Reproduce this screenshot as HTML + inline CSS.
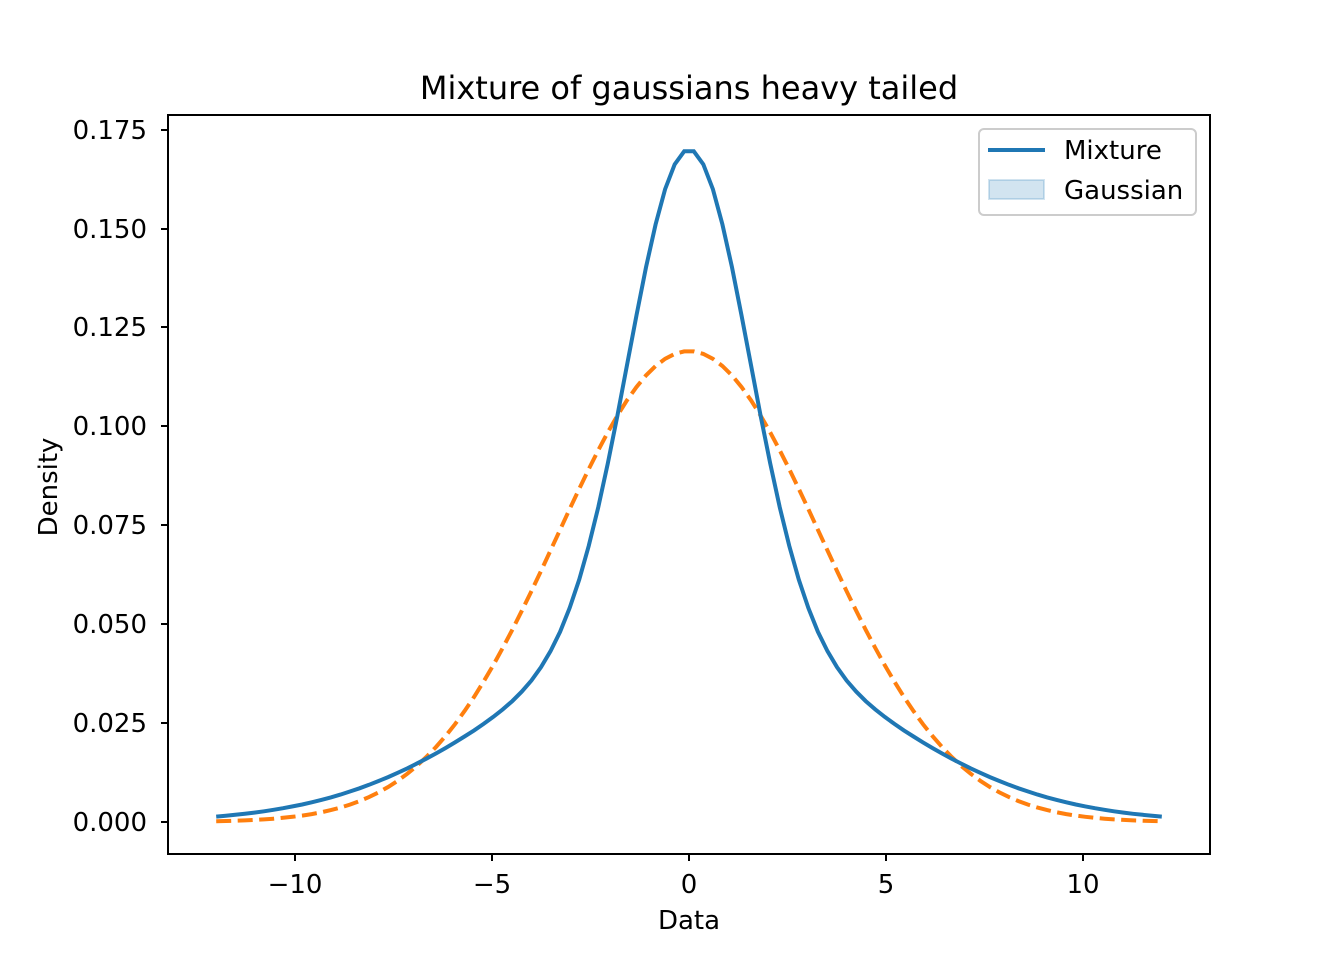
<!DOCTYPE html>
<html><head><meta charset="utf-8"><style>
body{margin:0;background:#fff}
text{font-family:"DejaVu Sans","Liberation Sans",sans-serif;fill:#000}
</style></head><body>
<svg id="s" width="1344" height="960" xmlns="http://www.w3.org/2000/svg">
<rect width="1344" height="960" fill="#fff"/>
<g id="curves"></g>
<rect x="168" y="115" width="1042" height="739" fill="none" stroke="#000" stroke-width="2"/>
<g stroke="#000" stroke-width="2">
<line x1="295" y1="854" x2="295" y2="861"/><line x1="492" y1="854" x2="492" y2="861"/>
<line x1="689" y1="854" x2="689" y2="861"/><line x1="886" y1="854" x2="886" y2="861"/>
<line x1="1083" y1="854" x2="1083" y2="861"/>
<line x1="161" y1="822" x2="168" y2="822"/><line x1="161" y1="723" x2="168" y2="723"/>
<line x1="161" y1="624" x2="168" y2="624"/><line x1="161" y1="525" x2="168" y2="525"/>
<line x1="161" y1="426" x2="168" y2="426"/><line x1="161" y1="327" x2="168" y2="327"/>
<line x1="161" y1="229" x2="168" y2="229"/><line x1="161" y1="130" x2="168" y2="130"/>
</g>
<g font-size="26" text-anchor="middle">
<text x="295" y="893">−10</text><text x="492" y="893">−5</text><text x="689" y="893">0</text>
<text x="886" y="893">5</text><text x="1083" y="893">10</text>
<text x="689" y="929">Data</text>
</g>
<g font-size="26" text-anchor="end">
<text x="147" y="831">0.000</text><text x="147" y="732">0.025</text><text x="147" y="633">0.050</text>
<text x="147" y="534">0.075</text><text x="147" y="435">0.100</text><text x="147" y="336">0.125</text>
<text x="147" y="238">0.150</text><text x="147" y="139">0.175</text>
</g>
<text font-size="26" text-anchor="middle" transform="translate(57,487) rotate(-90)">Density</text>
<text x="689" y="99" font-size="32" text-anchor="middle">Mixture of gaussians heavy tailed</text>
<rect x="979" y="129" width="217" height="86" rx="5" fill="#fff" fill-opacity="0.8" stroke="#ccc" stroke-width="2"/>
<line x1="988" y1="150" x2="1045" y2="150" stroke="#1f77b4" stroke-width="4"/>
<rect x="989" y="180" width="55" height="19" fill="#1f77b4" fill-opacity="0.2" stroke="#1f77b4" stroke-opacity="0.2" stroke-width="2"/>
<text x="1064" y="159" font-size="26">Mixture</text>
<text x="1064" y="199" font-size="26">Gaussian</text>
</svg>
<script>
function N(x,s){return Math.exp(-x*x/(2*s*s))/(s*Math.sqrt(2*Math.PI));}
function px(x){return 689+x*39.4;} function py(y){return 822-y*3954;}
var a=[],b=[];
for(var i=0;i<100;i++){var x=-12+24*i/99;
var m=0.459*N(x,1.5)+0.541*N(x,4.5);var g=N(x,3.35);
a.push(px(x).toFixed(1)+','+py(m).toFixed(1));b.push(px(x).toFixed(1)+','+py(g).toFixed(1));}
document.getElementById('curves').innerHTML=
'<polyline points="'+b.join(' ')+'" fill="none" stroke="#ff7f0e" stroke-width="4" stroke-dasharray="15,6.5"/>'+
'<polyline points="'+a.join(' ')+'" fill="none" stroke="#1f77b4" stroke-width="4"/>';
</script>
</body></html>
